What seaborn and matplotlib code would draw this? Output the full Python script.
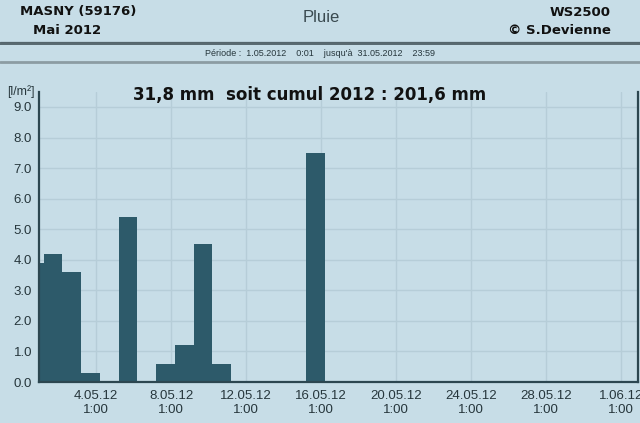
import numpy as np
import pandas as pd
import seaborn as sns
import matplotlib.pyplot as plt
from matplotlib.lines import Line2D

# daily rain, each period starts at 6:00
period_start = ["2012-04-30 06:00", "2012-05-01 06:00", "2012-05-02 06:00",
                "2012-05-03 06:00", "2012-05-05 06:00", "2012-05-07 06:00",
                "2012-05-08 06:00", "2012-05-09 06:00", "2012-05-10 06:00",
                "2012-05-15 06:00"]
rain_mm = [3.9, 4.2, 3.6, 0.3, 5.4, 0.6, 1.2, 4.5, 0.6, 7.5]

tick_dates = ["2012-05-04 01:00", "2012-05-08 01:00", "2012-05-12 01:00",
              "2012-05-16 01:00", "2012-05-20 01:00", "2012-05-24 01:00",
              "2012-05-28 01:00", "2012-06-01 01:00"]
tick_labels = ["4.05.12\n1:00", "8.05.12\n1:00", "12.05.12\n1:00",
               "16.05.12\n1:00", "20.05.12\n1:00", "24.05.12\n1:00",
               "28.05.12\n1:00", "1.06.12\n1:00"]
y_ticks = [0, 1, 2, 3, 4, 5, 6, 7, 8, 9]

BG = "#c7dde7"
BAR = "#2d5a6a"
GRID = "#b6cdd8"
DARK = "#2c4650"

origin = pd.Timestamp("2012-05-01 00:00")
day = pd.Timedelta(days=1)

df = pd.DataFrame({"start": pd.to_datetime(period_start), "rain": rain_mm})
df["day"] = (df["start"] - origin) / day + 0.5
edges = list((pd.date_range("2012-04-30 06:00", periods=34, freq="D") - origin) / day)
ticks = list((pd.to_datetime(tick_dates) - origin) / day)

sns.set_theme(style="whitegrid", rc={
    "axes.facecolor": BG, "figure.facecolor": BG, "grid.color": GRID,
    "grid.linewidth": 1.0, "axes.edgecolor": DARK,
})
plt.rcParams["font.family"] = ["Liberation Sans", "DejaVu Sans"]

fig = plt.figure(figsize=(6.4, 4.23), dpi=100)
ax = fig.add_axes([39 / 640, 1 - 382 / 423, 599 / 640, (382 - 91.7) / 423])

sns.histplot(data=df, x="day", weights="rain", bins=edges, color=BAR,
             alpha=1, linewidth=0, ax=ax)

ax.set_xlim((pd.Timestamp("2012-05-01 00:01") - origin) / day, 31.95)
ax.set_ylim(0, 9.5)
ax.set_xticks(ticks)
ax.set_xticklabels(tick_labels)
ax.set_yticks(y_ticks)
ax.set_yticklabels([f"{v:.1f}" for v in y_ticks])
ax.set_xlabel("")
ax.set_ylabel("")
ax.tick_params(length=0, labelsize=9.5, labelcolor="#26363c", pad=5)
ax.tick_params(axis="x", pad=6)
ax.grid(True, color=GRID, linewidth=1.0)
ax.set_axisbelow(True)
ax.spines["top"].set_visible(False)
for s in ["left", "bottom", "right"]:
    ax.spines[s].set_linewidth(1.6)
    ax.spines[s].set_color(DARK)

ax.text(-0.03, 1.0, "[l/m²]", transform=ax.transAxes, fontsize=8.8,
        color="#26363c", ha="center", va="center")

# header
bold = dict(fontweight="bold", family="DejaVu Sans", color="#111111", fontsize=9.5)
fig.text(20 / 640, 1 - 12 / 423, "MASNY (59176)", ha="left", va="center", **bold)
fig.text(33 / 640, 1 - 30 / 423, "Mai 2012", ha="left", va="center", **bold)
fig.text(611 / 640, 1 - 12 / 423, "WS2500", ha="right", va="center", **bold)
fig.text(611 / 640, 1 - 30 / 423, "© S.Devienne", ha="right", va="center", **bold)
fig.text(321 / 640, 1 - 18 / 423, "Pluie", ha="center", va="center",
         fontsize=12, color="#3a4a50")
fig.text(320 / 640, 1 - 53 / 423,
         "Période :  1.05.2012    0:01    jusqu'à  31.05.2012    23:59",
         ha="center", va="center", fontsize=6.5, color="#26363c")
fig.text(310 / 640, 1 - 95 / 423, "31,8 mm  soit cumul 2012 : 201,6 mm",
         ha="center", va="center", fontsize=12, fontweight="bold",
         family="DejaVu Sans", color="#111111")

for y, c, lw in [(41.7, "#55656c", 0.9), (44.3, "#4f5f66", 1.3), (62, "#8c9ca3", 2.0)]:
    fig.add_artist(Line2D([0, 1], [1 - y / 423] * 2, color=c, linewidth=lw,
                          transform=fig.transFigure))

fig.savefig("out.png", dpi=100, facecolor=BG)
